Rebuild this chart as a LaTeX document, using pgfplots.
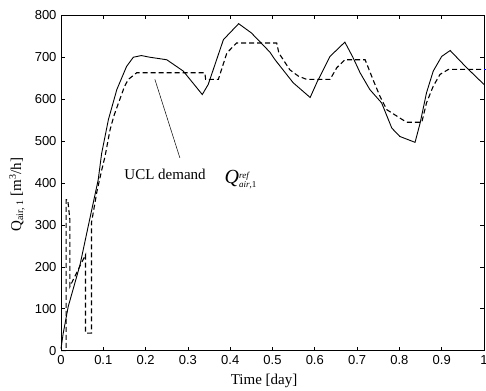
\documentclass[border=0pt]{standalone}
\usepackage{pgfplots}
\pgfplotsset{compat=1.18}
\usepackage{fontspec}
\setmainfont{Liberation Serif}
\setsansfont{Liberation Sans}
\begin{document}
\begin{tikzpicture}[x=1pt,y=1pt]
\useasboundingbox (0,0) rectangle (486,390);
\begin{axis}[
  at={(61pt,39.3pt)}, anchor=south west,
  scale only axis, width=423pt, height=335.4pt,
  xmin=0, xmax=1, ymin=0, ymax=800,
  xtick={0,0.1,...,1.01}, ytick={0,100,...,800},
  xticklabels={0,0.1,0.2,0.3,0.4,0.5,0.6,0.7,0.8,0.9,1},
  yticklabels={0,100,200,300,400,500,600,700,800},
  tick align=inside, major tick length=4pt,
  axis line style={line width=1pt},
  every tick/.style={black, line width=0.7pt},
  every tick label/.append style={font=\sffamily\fontsize{13}{13}\selectfont},
  /pgf/number format/assume math mode=true,
  xticklabel style={yshift=-1pt},
  yticklabel style={xshift=-1pt},
  xlabel={Time [day]},
  xlabel style={at={(axis description cs:0.48,-0.09)}, anchor=center, font=\rmfamily\fontsize{15}{15}\selectfont},
  ylabel={Q$_{\mbox{\fontsize{10}{10}\selectfont air, 1}}$ [m$^{\mbox{\fontsize{10}{10}\selectfont 3}}$/h]},
  ylabel style={at={(axis description cs:-0.104,0.465)}, anchor=center, font=\rmfamily\fontsize{15}{15}\selectfont},
  clip=false,
]
\addplot[black, line width=0.9pt] coordinates {
(0,5) (0.005,40) (0.017,105) (0.045,205) (0.065,300) (0.088,408) (0.096,470)
(0.112,551) (0.132,623) (0.155,678) (0.171,700) (0.19,704) (0.21,700) (0.25,694)
(0.289,667) (0.334,611) (0.348,635) (0.384,742) (0.42,780) (0.45,758) (0.494,712)
(0.506,694) (0.549,639) (0.589,604) (0.605,640) (0.636,702) (0.671,736) (0.69,700)
(0.707,663) (0.73,623) (0.758,591) (0.782,531) (0.801,511) (0.837,497) (0.849,543)
(0.864,615) (0.88,667) (0.9,702) (0.92,716) (0.959,675) (1.0,635)
};
\addplot[black, line width=1.1pt, dash pattern=on 5pt off 3pt] coordinates {
(0,0) (0.012,0) (0.012,360) (0.016,360) (0.021,312) (0.021,153) (0.058,229)
(0.058,42) (0.072,42) (0.072,305) (0.085,380) (0.096,430) (0.104,463) (0.116,527)
(0.125,560) (0.136,591) (0.15,630) (0.159,647) (0.179,663) (0.340,663) (0.342,647)
(0.372,647) (0.392,710) (0.415,734) (0.510,734) (0.515,710) (0.541,670) (0.561,655)
(0.581,647) (0.636,647) (0.652,675) (0.671,694) (0.719,694) (0.739,643) (0.754,607)
(0.77,575) (0.801,555) (0.817,545) (0.853,545) (0.864,591) (0.88,631) (0.896,659)
(0.916,671) (1,671)
};
\addplot[blue, line width=0.8pt] coordinates {(1.0,671) (1.01,671)};
\draw[black, line width=0.5pt] (axis cs:0.222,647) -- (axis cs:0.281,460);
\node[font=\rmfamily\fontsize{15}{15}\selectfont, anchor=center] at (axis cs:0.246,420) {UCL demand};
\node[anchor=center, font=\rmfamily] at (axis cs:0.425,408) {{\fontsize{20}{20}\selectfont\itshape Q}$^{\mbox{\fontsize{9}{9}\selectfont\itshape ref}}_{\mbox{\fontsize{9}{9}\selectfont\itshape air\upshape ,1}}$};
\end{axis}
\end{tikzpicture}
\end{document}
